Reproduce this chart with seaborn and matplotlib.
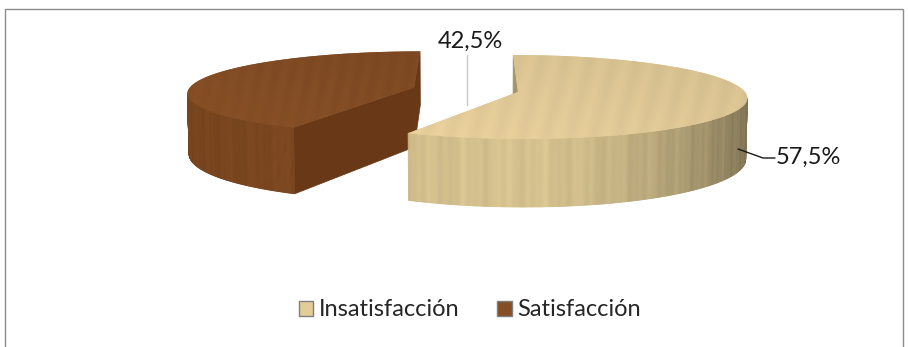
import numpy as np
import matplotlib
matplotlib.use("Agg")
import matplotlib.pyplot as plt
from matplotlib.patches import Polygon, Rectangle, Patch
from matplotlib.colors import to_rgb
import seaborn as sns

# ---- data ---------------------------------------------------------------
categories = ["Insatisfacción", "Satisfacción"]
values = [57.5, 42.5]

# wood tones: top face / outer wall / cut face for each slice
top_colors = ["#E4CC99", "#854E25"]
side_colors = ["#D6C28E", "#7E4820"]
cut_colors = ["#A8946A", "#683817"]

sns.set_theme(style="white")
plt.rcParams["font.family"] = ["Lato", "DejaVu Sans"]

W, H = 908, 347
fig = plt.figure(figsize=(W / 100, H / 100), dpi=100)
ax = fig.add_axes([0, 0, 1, 1])
ax.set_xlim(0, W)
ax.set_ylim(H, 0)
ax.axis("off")

# ---- 3-D pie with a simple pinhole camera -------------------------------
pie_x, pie_y = 518, 92          # where the pie centre lands on screen
scale = 227                     # pixels per pie radius at the centre
dist = 8.3                      # camera distance (in radii)
elev = np.radians(10.5)         # camera elevation
cam_x = -0.2                    # camera sits slightly left of the centre
thick = 0.272                   # slab thickness (in radii)
explode = [0.0, 0.475]

cam = np.array([cam_x, dist * np.sin(elev), -dist * np.cos(elev)])
fwd = np.array([0.0, -np.sin(elev), np.cos(elev)])
up = np.array([0.0, np.cos(elev), np.sin(elev)])
px0 = pie_x + scale * cam_x


def proj(X, Y, Z):
    X, Y, Z = np.broadcast_arrays(np.asarray(X, float), np.asarray(Y, float), np.asarray(Z, float))
    vx, vy, vz = X - cam[0], Y - cam[1], Z - cam[2]
    zc = vy * fwd[1] + vz * fwd[2]
    yc = vy * up[1] + vz * up[2]
    return px0 + scale * dist * vx / zc, pie_y - scale * dist * yc / zc


def faces_camera(px, pz, nx, nz):
    return nx * (cam[0] - px) + nz * (cam[2] - pz) > 0


def shade(base, f):
    return tuple(np.clip(np.array(to_rgb(base)) * f, 0, 1))


def grain(t):
    return 0.018 * np.sin(41 * t) + 0.014 * np.sin(97 * t + 1.3) + 0.012 * np.sin(173 * t + 0.4)


# slices run clockwise from 12 o'clock
total = float(sum(values))
cum = np.concatenate([[0], np.cumsum(values)]) / total * 2 * np.pi
slices = []
for i, v in enumerate(values):
    t1 = np.pi / 2 - cum[i + 1]
    t2 = np.pi / 2 - cum[i]
    mid = (t1 + t2) / 2
    slices.append((i, t1, t2, explode[i] * np.cos(mid), explode[i] * np.sin(mid)))

# exploded slice sits behind, so it is painted first
for i, t1, t2, ox, oz in sorted(slices, key=lambda s: -explode[s[0]]):
    ts = np.linspace(t1, t2, 500)
    rxs, rzs = ox + np.cos(ts), oz + np.sin(ts)

    # radial cut faces
    for t_edge, (nx, nz) in ((t2, (-np.sin(t2), np.cos(t2))), (t1, (np.sin(t1), -np.cos(t1)))):
        ex, ez = ox + 0.5 * np.cos(t_edge), oz + 0.5 * np.sin(t_edge)
        if faces_camera(ex, ez, nx, nz):
            X = [ox, ox + np.cos(t_edge), ox + np.cos(t_edge), ox]
            Z = [oz, oz + np.sin(t_edge), oz + np.sin(t_edge), oz]
            Y = [0, 0, -thick, -thick]
            sx, sy = proj(X, Y, Z)
            ax.add_patch(Polygon(np.column_stack([sx, sy]), closed=True,
                                 facecolor=cut_colors[i], edgecolor=cut_colors[i],
                                 lw=0.5, zorder=2))

    # outer curved wall as thin strips, light falling off to the right
    vis = faces_camera(rxs, rzs, np.cos(ts), np.sin(ts))
    for k in range(len(ts) - 1):
        if not (vis[k] or vis[k + 1]):
            continue
        a, b = ts[k], ts[k + 1]
        m = (a + b) / 2
        f = 1.0 - 0.4 * max(np.cos(m), 0) ** 1.6 - 0.05 * max(-np.cos(m), 0) + grain(m)
        X = [ox + np.cos(a), ox + np.cos(b), ox + np.cos(b), ox + np.cos(a)]
        Z = [oz + np.sin(a), oz + np.sin(b), oz + np.sin(b), oz + np.sin(a)]
        Y = [0, 0, -thick, -thick]
        sx, sy = proj(X, Y, Z)
        c = shade(side_colors[i], f)
        ax.add_patch(Polygon(np.column_stack([sx, sy]), closed=True,
                             facecolor=c, edgecolor=c, lw=0.6, zorder=3))

    # top face with a soft gradient
    sx, sy = proj(np.r_[ox, rxs], np.zeros(len(ts) + 1), np.r_[oz, rzs])
    top = Polygon(np.column_stack([sx, sy]), closed=True,
                  facecolor=top_colors[i], edgecolor="none", zorder=4)
    ax.add_patch(top)
    x0, x1 = sx.min() - 2, sx.max() + 2
    y0, y1 = sy.min() - 2, sy.max() + 2
    gx, gy = np.meshgrid(np.linspace(0, 1, 300), np.linspace(0, 1, 80))
    f = 0.97 + 0.05 * gy - 0.04 * gx + 0.015 * np.sin(gx * 90 + gy * 6)
    img = np.clip(np.array(to_rgb(top_colors[i]))[None, None, :] * f[..., None], 0, 1)
    im = ax.imshow(img, extent=(x0, x1, y1, y0), zorder=5,
                   interpolation="bilinear", aspect="auto")
    im.set_clip_path(top)

ax.set_xlim(0, W)
ax.set_ylim(H, 0)


def pct(v):
    return f"{v:.1f}".replace(".", ",") + "%"


# data labels with leader lines
ax.text(470, 41, pct(values[1]), ha="center", va="center", fontsize=17,
        color="#1A1A1A", zorder=7)
ax.plot([467, 467], [55, 105], color="#C8C8C8", lw=1, zorder=6)
ax.text(776, 157, pct(values[0]), ha="left", va="center", fontsize=17,
        color="#1A1A1A", zorder=7)
ax.plot([738, 763, 775], [149, 158, 158], color="#1A1A1A", lw=1, zorder=6)

# chart border
ax.add_patch(Rectangle((5, 9), 898, 345, fill=False, edgecolor="#8C8C8C", lw=1, zorder=8))

handles = [Patch(facecolor=top_colors[k], edgecolor="#7F7F7F", lw=1)
           for k in range(len(categories))]
fig.legend(handles, categories, loc="center", bbox_to_anchor=(470 / W, 1 - 310 / H), ncol=2,
           frameon=False, fontsize=17, handlelength=0.6, handleheight=0.6,
           handletextpad=0.25, columnspacing=1.6)

fig.savefig("out.png", dpi=100)
